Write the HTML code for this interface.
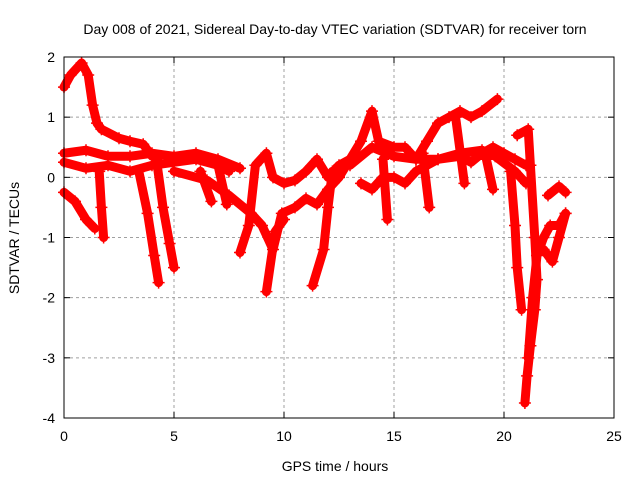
<!DOCTYPE html>
<html><head><meta charset="utf-8"><style>
body{margin:0;background:#fff}
svg text{font-family:"Liberation Sans",sans-serif;font-size:14px;fill:#000}
</style></head><body>
<svg id="chart" width="640" height="480">
<text x="335" y="34" text-anchor="middle">Day 008 of 2021, Sidereal Day-to-day VTEC variation (SDTVAR) for receiver torn</text>
<text x="335" y="471" text-anchor="middle">GPS time / hours</text>
<text transform="translate(19,238) rotate(-90)" text-anchor="middle">SDTVAR / TECUs</text>
<g id="grid"></g><g id="marks"></g><g id="axes"></g>
</svg>
<script>
const xTicks=[0,5,10,15,20,25];
const yTicks=[-4,-3,-2,-1,0,1,2];
const trackArc=[[0,1.5],[0.3,1.7],[0.8,1.9],[1.1,1.7],[1.3,1.2],[1.5,0.9],[1.7,0.8],[2.5,0.65],[3,0.6],[3.6,0.55],[4,0.35]];
const trackTop=[[0,0.4],[1,0.45],[2,0.35],[3,0.35],[4,0.4],[5,0.35],[6,0.4],[7,0.3],[8,0.15]];
const trackMid=[[0,0.25],[1,0.15],[2,0.2],[3,0.1],[4,0.2],[5,0.25],[6,0.3],[7,0.2],[7.5,0.1]];
const trackLow=[[0,-0.25],[0.5,-0.4],[1,-0.7],[1.4,-0.85]];
const drop1=[[1.6,0.1],[1.7,-0.5],[1.8,-1.0]];
const drop2=[[3.4,0.1],[3.8,-0.6],[4.1,-1.3],[4.3,-1.75]];
const drop3=[[4.2,0.3],[4.5,-0.5],[4.8,-1.1],[5.0,-1.5]];
const drop4=[[6.2,0.1],[6.7,-0.4]];
const drop5=[[7.0,0.2],[7.4,-0.45]];
const trackDecl=[[5,0.1],[6.5,-0.05],[7.5,-0.3],[8.5,-0.6],[9,-0.8],[9.5,-1.2],[9.9,-0.6],[10.5,-0.5],[11,-0.35],[11.5,-0.45],[12,-0.2],[12.5,0]];
const trackF=[[8,-1.25],[8.4,-0.8],[8.7,0.2],[9.2,0.4],[9.5,0],[10,-0.1],[10.5,-0.05],[11,0.1],[11.5,0.3],[12,0],[12.5,0.2],[13,0.3]];
const drop9=[[9.2,-1.9],[9.6,-0.9],[10,-0.7]];
const drop11=[[11.3,-1.8],[11.8,-1.2],[12,-0.5],[12.2,0.1]];
const trackUp=[[12.5,0],[13,0.3],[13.5,0.6],[14,1.1],[14.3,0.6],[15,0.5],[15.5,0.5],[16,0.3],[16.5,0.6],[17,0.9],[17.5,1.0],[18,1.1],[18.5,1.0],[19,1.1],[19.7,1.3]];
const trackBand=[[13,0.2],[14,0.5],[15,0.35],[16,0.3],[17,0.3],[18,0.35],[18.5,0.25],[19,0.4],[19.5,0.5],[20,0.4],[20.5,0.3],[21,0.2]];
const trackBase=[[13.5,-0.1],[14,-0.2],[14.5,0],[15,0],[15.5,-0.1],[16,0.1],[16.5,0.2],[17,0.3],[18,0.4],[19,0.45],[19.6,0.35],[20.5,0.1],[21,-0.1]];
const dipsA=[[14.5,0.3],[14.7,-0.7]];
const dipsB=[[16.3,0.4],[16.6,-0.5]];
const dipsC=[[17.8,1.0],[18.2,-0.1]];
const dipsD=[[19.2,0.3],[19.5,-0.2]];
const rDrop1=[[20.3,0.1],[20.5,-0.8],[20.6,-1.5],[20.8,-2.2]];
const rDrop2=[[20.6,0.7],[21.1,0.8],[21.2,0.2],[21.4,-1.0],[21.5,-1.7],[21.4,-2.2],[21.2,-2.8],[21.05,-3.3],[20.95,-3.75]];
const rRise=[[21.1,-3.0],[21.3,-2.0],[21.5,-1.3],[21.8,-1.0],[22.1,-0.8],[22.5,-0.8],[22.8,-0.6]];
const rRise2=[[21.8,-1.2],[22.2,-1.4],[22.5,-1.0],[22.8,-0.6]];
const rSmall=[[22.0,-0.3],[22.5,-0.15],[22.8,-0.25]];
const tracks=[trackArc,trackTop,trackMid,trackLow,drop1,drop2,drop3,drop4,drop5,trackDecl,trackF,drop9,drop11,trackUp,trackBand,trackBase,dipsA,dipsB,dipsC,dipsD,rDrop1,rDrop2,rRise,rRise2,rSmall];
const L=64,R=614,T=57,B=418;
const xs=t=>L+(t-0)/25*(R-L);
const ys=v=>B-(v+4)/6*(B-T);
const NS="http://www.w3.org/2000/svg";
function mk(tag,attrs,parent){const e=document.createElementNS(NS,tag);for(const k in attrs)e.setAttribute(k,attrs[k]);parent.appendChild(e);return e;}
const grid=document.getElementById('grid'),marks=document.getElementById('marks'),axes=document.getElementById('axes');
xTicks.forEach(t=>{const x=xs(t);
 if(t>0&&t<25){const g=mk('line',{x1:x,x2:x,y1:T,y2:B,stroke:'#a0a0a0','stroke-dasharray':'3,3'},grid);
 
 }
 mk('line',{x1:x,x2:x,y1:B,y2:B-6,stroke:'#000'},axes);mk('line',{x1:x,x2:x,y1:T,y2:T+6,stroke:'#000'},axes);
 const tx=mk('text',{x:x,y:B+23,'text-anchor':'middle'},axes);tx.textContent=t;
 
 });
yTicks.forEach(v=>{const y=ys(v);
 if(v>-4&&v<2){const g=mk('line',{x1:L,x2:R,y1:y,y2:y,stroke:'#a0a0a0','stroke-dasharray':'3,3'},grid);
 
 }
 mk('line',{x1:L,x2:L+6,y1:y,y2:y,stroke:'#000'},axes);mk('line',{x1:R,x2:R-6,y1:y,y2:y,stroke:'#000'},axes);
 const tx=mk('text',{x:L-9,y:y+5,'text-anchor':'end'},axes);tx.textContent=v;
 
 });
const frame=mk('rect',{x:L,y:T,width:R-L,height:B-T,fill:'none',stroke:'#000'},axes);


tracks.forEach(tr=>{
 const pl=mk('polyline',{points:tr.map(p=>xs(p[0])+','+ys(p[1])).join(' '),fill:'none',stroke:'#f00','stroke-width':9,'stroke-linejoin':'round','stroke-linecap':'round'},marks);
 
 
 tr.forEach(p=>{const x=xs(p[0]),y=ys(p[1]);
  const m=mk('path',{d:`M${x-6},${y}h12M${x},${y-6}v12`,stroke:'#f00','stroke-width':1.5},marks);
  
  });
});
</script>
</body></html>
